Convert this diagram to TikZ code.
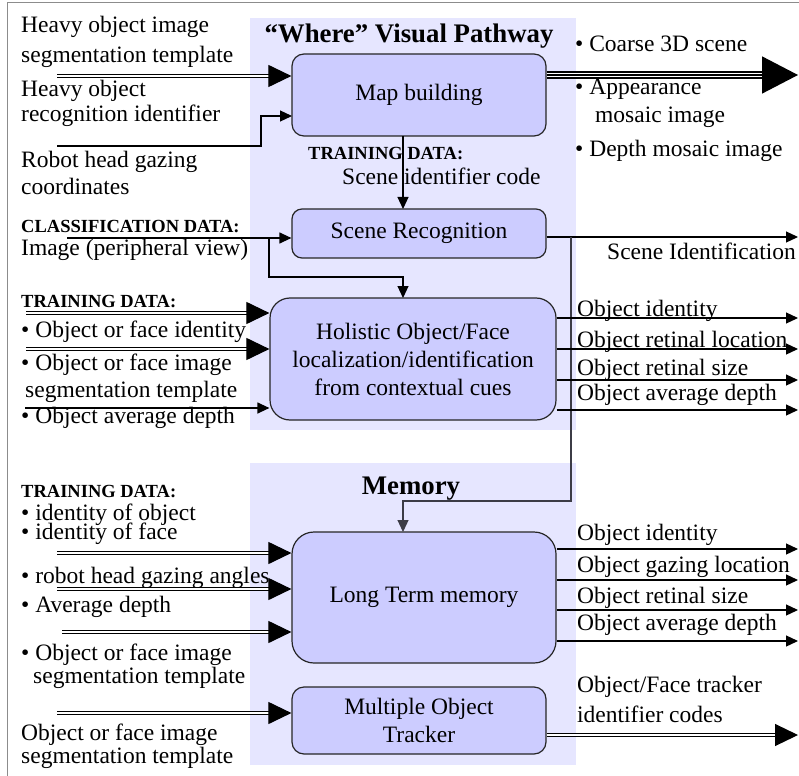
\documentclass[tikz,border=0pt]{standalone}
\usepackage{fontspec}
\setmainfont{Liberation Serif}
\usetikzlibrary{arrows.meta}
\definecolor{panel}{RGB}{230,230,255}
\definecolor{boxfill}{RGB}{204,204,255}
\definecolor{framegray}{RGB}{140,140,140}
\definecolor{wire}{RGB}{60,60,70}
\begin{document}
\begin{tikzpicture}[x=1pt,y=-1pt,
  txt/.style={inner sep=0pt, anchor=base west, font=\fontsize{23.5}{28}\selectfont},
  hdr/.style={inner sep=0pt, anchor=base west, font=\fontsize{18.5}{22}\selectfont\bfseries},
  ttl/.style={inner sep=0pt, anchor=base, font=\fontsize{26.8}{30}\selectfont\bfseries},
  proc/.style={draw=black!85, fill=boxfill, line width=1.2pt, align=center,
    font=\fontsize{23.5}{28}\selectfont, inner sep=0pt},
  arr/.style={line width=1.2pt, -{Triangle[length=12pt,width=11pt]}},
  warr/.style={line width=1.2pt, draw=wire},
  dbl/.style={double, double distance=1.4pt, line width=1.1pt,
    -{Triangle[length=23pt,width=22pt]}},
  % three parallel rules ending in one large head
  triple/.style={double, double distance=4.2pt, line width=1.5pt,
    -{Triangle[length=36pt,width=37pt]},
    postaction={draw, line width=1.3pt, arrows=-, shorten >=30pt}},
]
\useasboundingbox (0,0) rectangle (799,775);

% frame and panels
\draw[framegray, line width=1pt] (7,785) -- (7,3) -- (810,3);
\fill[panel] (250,18) rectangle (576,430);
\fill[panel] (250,463) rectangle (576,765);

% processing blocks
\node[proc, rounded corners=12pt, minimum width=254pt, minimum height=82pt] (mapb) at (419,95) {Map building};
\node[proc, rounded corners=10pt, minimum width=254pt, minimum height=49pt] (scene) at (419,233.5) {Scene Recognition};
\node[proc, rounded corners=20pt, minimum width=286pt, minimum height=122pt] (holo) at (413,359)
  {Holistic Object/Face\\localization/identification\\from contextual cues};
\node[proc, rounded corners=22pt, minimum width=264pt, minimum height=131pt] (ltm) at (424,597.5) {Long Term memory};
\node[proc, rounded corners=12pt, minimum width=254pt, minimum height=67pt] (trk) at (419,720.5) {Multiple Object\\Tracker};

% titles
\node[ttl] (wtitle) at (409,43) {“Where” Visual Pathway};
\node[ttl] (mtitle) at (411,494) {Memory};

% left texts, map building
\node[txt] (l1) at (21,33) {Heavy object image};
\node[txt] (l2) at (21,63) {segmentation template};
\node[txt] (l3) at (21,97) {Heavy object};
\node[txt] (l4) at (21,122) {recognition identifier};
\node[txt] (l5) at (21,168) {Robot head gazing};
\node[txt] (l6) at (21,195) {coordinates};

% right texts, map building
\node[txt] (r1) at (575,52) {• Coarse 3D scene};
\node[txt] (r2) at (575,95) {• Appearance};
\node[txt] (r3) at (595,123) {mosaic image};
\node[txt] (r4) at (575,157) {• Depth mosaic image};

\node[hdr] (td1) at (308,160) {TRAINING DATA:};
\node[txt] (sic) at (342,185) {Scene identifier code};

\node[hdr] (cd) at (21,233) {CLASSIFICATION DATA:};
\node[txt] (img) at (21,255) {Image (peripheral view)};
\node[txt] (sid) at (607,260) {Scene Identification};

% holistic inputs
\node[hdr] (td2) at (21,307) {TRAINING DATA:};
\node[txt] (h1) at (21,337) {• Object or face identity};
\node[txt] (h2) at (21,370) {• Object or face image};
\node[txt] (h3) at (25,397) {segmentation template};
\node[txt] (h4) at (21,423) {• Object average depth};

% holistic outputs
\node[txt] (ho1) at (577,316) {Object identity};
\node[txt] (ho2) at (577,347) {Object retinal location};
\node[txt] (ho3) at (577,375) {Object retinal size};
\node[txt] (ho4) at (577,400) {Object average depth};

% memory inputs
\node[hdr] (td3) at (21,497) {TRAINING DATA:};
\node[txt] (m1) at (21,520) {• identity of object};
\node[txt] (m2) at (21,539) {• identity of face};
\node[txt] (m3) at (21,583) {• robot head gazing angles};
\node[txt] (m4) at (21,612) {• Average depth};
\node[txt] (m5) at (21,660) {• Object or face image};
\node[txt] (m6) at (33,683) {segmentation template};
\node[txt] (m7) at (21,740) {Object or face image};
\node[txt] (m8) at (21,763) {segmentation template};

% memory outputs
\node[txt] (mo1) at (577,540) {Object identity};
\node[txt] (mo2) at (577,572) {Object gazing location};
\node[txt] (mo3) at (577,603) {Object retinal size};
\node[txt] (mo4) at (577,630) {Object average depth};
\node[txt] (to1) at (577,692) {Object/Face tracker};
\node[txt] (to2) at (577,722) {identifier codes};

% free ends of connectors
\coordinate (inA) at (57,76);
\coordinate (inB) at (57,146);
\coordinate (outA) at (798,75);
\coordinate (inC) at (67,238);
\coordinate (outS) at (798,237);
\coordinate (inH1) at (26,313);
\coordinate (inH2) at (26,349);
\coordinate (inH3) at (25,408);
\coordinate (oH1) at (798,318);
\coordinate (oH2) at (798,349);
\coordinate (oH3) at (798,380);
\coordinate (oH4) at (798,410);
\coordinate (inM1) at (57,553);
\coordinate (inM2) at (57,589);
\coordinate (inM3) at (62,632);
\coordinate (inT) at (57,713);
\coordinate (oM1) at (798,549);
\coordinate (oM2) at (798,580);
\coordinate (oM3) at (798,610);
\coordinate (oM4) at (798,641);
\coordinate (oT) at (798,735);

% map building
\draw[dbl] (inA) -- (inA -| mapb.west);
\draw[arr] (inB) -- (261,146) -- (261,116) -- (292,116);
\draw[triple] (mapb.east |- outA) -- (outA);
\draw[arr] (403,136) -- (403,209);

% scene recognition
\draw[arr] (inC) -- (inC -| scene.west);
\draw[arr] (269,238) -- (269,277) -- (403,277) -- (403,298);
\draw[arr] (scene.east |- outS) -- (outS);
\draw[warr, -{Triangle[length=12pt,width=11pt]}] (571,237) -- (571,501) -- (403,501) -- (403,532);

% holistic
\draw[dbl] (inH1) -- (inH1 -| holo.west);
\draw[dbl] (inH2) -- (inH2 -| holo.west);
\draw[arr] (inH3) -- (inH3 -| holo.west);
\foreach \o in {oH1,oH2,oH3,oH4} \draw[arr] (holo.east |- \o) -- (\o);

% memory
\draw[dbl] (inM1) -- (inM1 -| ltm.west);
\draw[dbl] (inM2) -- (inM2 -| ltm.west);
\draw[dbl] (inM3) -- (inM3 -| ltm.west);
\draw[dbl] (inT) -- (inT -| trk.west);
\foreach \o in {oM1,oM2,oM3,oM4} \draw[arr] (ltm.east |- \o) -- (\o);
\draw[dbl] (trk.east |- oT) -- (oT);
\end{tikzpicture}
\end{document}
